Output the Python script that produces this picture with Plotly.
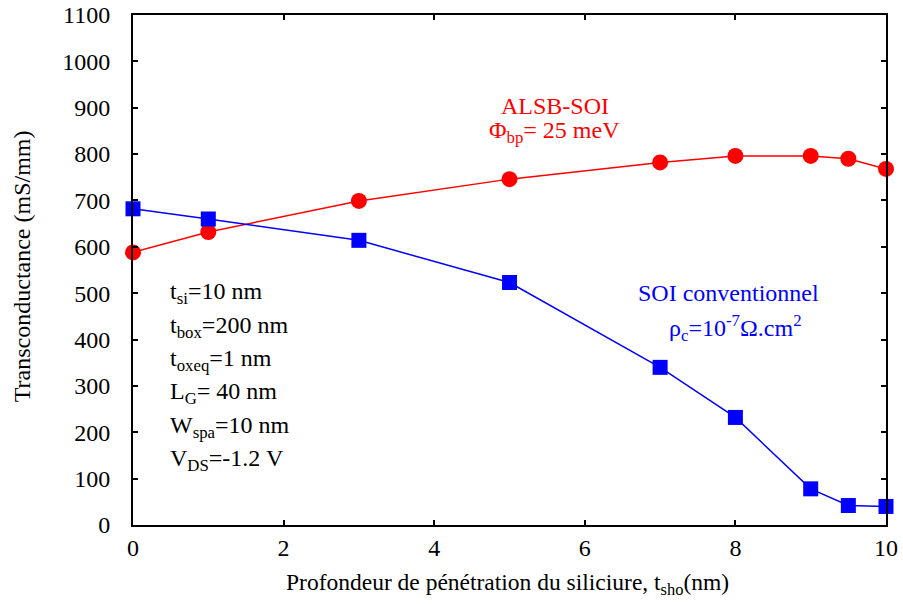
import plotly.graph_objects as go

# Penetration depth of the silicide (nm)
x_alsb = [0, 1, 3, 5, 7, 8, 9, 9.5, 10]
gm_alsb = [588, 632, 699, 746, 782, 796, 796, 790, 768]

x_soi = [0, 1, 3, 5, 7, 8, 9, 9.5, 10]
gm_soi = [682, 660, 614, 523, 340, 232, 78, 42, 40]

x_ticks = [0, 2, 4, 6, 8, 10]
y_ticks = list(range(0, 1101, 100))

FONT = "Liberation Serif"
FS = 24
RED = "#ff0000"
BLUE = "#0000ff"

fig = go.Figure()
fig.add_trace(go.Scatter(
    x=x_alsb, y=gm_alsb, mode="lines+markers",
    line=dict(color=RED, width=1.5),
    marker=dict(symbol="circle", size=16, color=RED),
    cliponaxis=False, showlegend=False))
fig.add_trace(go.Scatter(
    x=x_soi, y=gm_soi, mode="lines+markers",
    line=dict(color=BLUE, width=1.5),
    marker=dict(symbol="square", size=15, color=BLUE),
    cliponaxis=False, showlegend=False))

axis_common = dict(
    showline=True, linecolor="black", linewidth=2, mirror="ticks",
    ticks="inside", ticklen=5, tickwidth=1.5, tickcolor="black",
    showgrid=False, zeroline=False, automargin=False,
    tickfont=dict(family=FONT, size=FS, color="black"),
)

fig.update_layout(
    width=903, height=604,
    margin=dict(l=133, r=17, t=15, b=79),
    paper_bgcolor="white", plot_bgcolor="white",
    font=dict(family=FONT, color="black"),
    xaxis=dict(range=[0, 10], tickvals=x_ticks, ticktext=[str(v) for v in x_ticks],
               **axis_common),
    yaxis=dict(range=[0, 1100], tickvals=y_ticks, ticktext=[str(v) for v in y_ticks],
               ticklabelstandoff=16, **axis_common),
)

# Axis titles
fig.add_annotation(x=0.498, y=-0.116, xref="paper", yref="paper",
                   text="Profondeur de pénétration du siliciure, t<sub>sho</sub>(nm)",
                   showarrow=False, xanchor="center", yanchor="middle",
                   font=dict(family=FONT, size=FS - 0.5, color="black"))
fig.add_annotation(x=-0.147, y=0.508, xref="paper", yref="paper",
                   text="Transconductance (mS/mm)", textangle=-90,
                   showarrow=False, xanchor="center", yanchor="middle",
                   font=dict(family=FONT, size=FS, color="black"))

ann_font_red = dict(family=FONT, size=FS, color=RED)
ann_font_blue = dict(family=FONT, size=FS, color=BLUE)
ann_font_black = dict(family=FONT, size=FS, color="black")

fig.add_annotation(x=5.6, y=904, xref="x", yref="y", text="ALSB-SOI",
                   showarrow=False, font=ann_font_red, xanchor="center")
fig.add_annotation(x=5.6, y=848, xref="x", yref="y", text="Φ<sub>bp</sub>= 25 meV",
                   showarrow=False, font=ann_font_red, xanchor="center")
fig.add_annotation(x=6.68, y=500, xref="x", yref="y", text="SOI conventionnel",
                   showarrow=False, font=ann_font_blue, xanchor="left")
fig.add_annotation(x=7.09, y=424, xref="x", yref="y", text="ρ<sub>c</sub>=10<sup>-7</sup>Ω.cm<sup>2</sup>",
                   showarrow=False, font=ann_font_blue, xanchor="left")

params = ["t<sub>si</sub>=10 nm", "t<sub>box</sub>=200 nm", "t<sub>oxeq</sub>=1 nm",
          "L<sub>G</sub>= 40 nm", "W<sub>spa</sub>=10 nm", "V<sub>DS</sub>=-1.2 V"]
param_y = [500, 427, 356, 285, 212, 140]
for txt, yy in zip(params, param_y):
    fig.add_annotation(x=0.46, y=yy, xref="x", yref="y", text=txt,
                       showarrow=False, font=ann_font_black, xanchor="left")

fig.write_html("out.html")
